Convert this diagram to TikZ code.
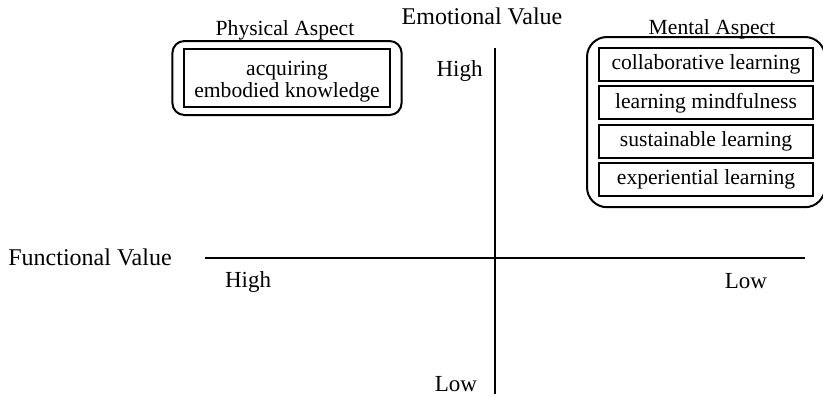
\documentclass[tikz,border=0pt]{standalone}
\usepackage{fontspec}
\setmainfont{Liberation Serif}
\usetikzlibrary{fit}
\tikzset{
  axistitle/.style={font=\fontsize{12}{14}\selectfont, inner sep=0pt, anchor=base},
  axislabel/.style={font=\fontsize{11.5}{13}\selectfont, inner sep=0pt, anchor=base},
  aspectlabel/.style={font=\fontsize{10.8}{12}\selectfont, inner sep=0pt, anchor=base},
  itembox/.style={draw, line width=1pt, inner sep=0pt, align=center,
    minimum width=107pt, minimum height=16.5pt, font=\fontsize{10.8}{11}\selectfont},
  groupbox/.style={draw, line width=1pt, inner sep=0pt},
  axisline/.style={line width=1pt}
}
\begin{document}
\begin{tikzpicture}[x=0.5pt, y=-0.5pt]
\useasboundingbox (0,0) rectangle (823,396);
% axes
\coordinate (etop) at (495,48);
\coordinate (ebot) at (495,394);
\coordinate (fleft) at (205,257.5);
\coordinate (fright) at (805,257.5);
\draw[axisline] (etop) -- (ebot);
\draw[axisline] (fleft) -- (fright);
\node[axistitle] (emotional) at (482,25) {Emotional Value};
\node[axistitle] (functional) at (90,265) {Functional Value};
\node[axislabel] (ehigh) at (459.5,76) {High};
\node[axislabel] (elow) at (456,391.5) {Low};
\node[axislabel] (fhigh) at (248,287) {High};
\node[axislabel] (flow) at (746,288) {Low};
% physical aspect
\node[itembox, minimum width=103pt, minimum height=29pt] (embodied) at (287,78)
  {\raisebox{-1.8pt}[\height][\depth]{\begin{tabular}{@{}c@{}}acquiring\\embodied knowledge\end{tabular}}};
\node[groupbox, rounded corners=6pt, fit=(embodied), inner xsep=5.3pt, inner ysep=3.5pt] (physical) {};
\node[aspectlabel] (physlabel) at (285,35) {Physical Aspect};
% mental aspect
\foreach \txt [count=\i] in {collaborative learning, learning mindfulness,
  sustainable learning, experiential learning}
  \node[itembox] (m\i) at (706,{26.1+38.4*\i}) {\txt};
\node[groupbox, rounded corners=10pt, fit=(m1)(m4), inner xsep=5.5pt, inner ysep=5pt] (mental) {};
\node[aspectlabel] (mentlabel) at (712,34) {Mental Aspect};
\end{tikzpicture}
\end{document}
